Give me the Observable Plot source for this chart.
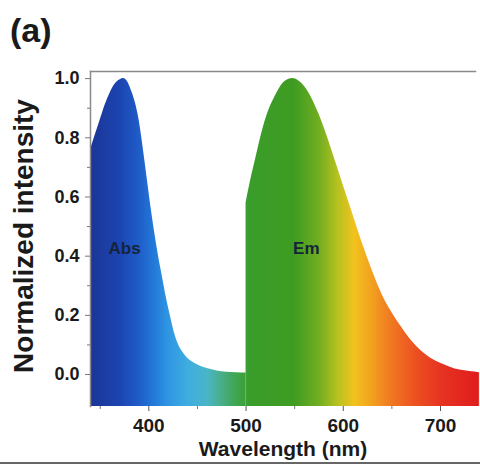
<!DOCTYPE html>
<html>
<head>
<meta charset="utf-8">
<script src="https://cdn.jsdelivr.net/npm/d3@7"></script>
<script src="https://cdn.jsdelivr.net/npm/@observablehq/plot@0.6"></script>
<style>
  html, body { margin: 0; padding: 0; background: #fff; }
  #wrap { position: relative; width: 480px; height: 466px; overflow: hidden; font-family: "Liberation Sans", Arial, sans-serif; }
  #panel { position: absolute; left: 10px; top: 11px; font-size: 34px; font-weight: bold; color: #1a1a1a; }
  #rule { position: absolute; left: 0; right: 0; top: 462px; height: 2px; background: #666; }
</style>
</head>
<body>
<div id="wrap">
  <div id="chart"></div>
  <div id="panel">(a)</div>
  <div id="rule"></div>
</div>
<script>
// Wavelength (nm) and normalized intensity
const absWavelength = [340, 345, 350, 355, 360, 365, 370, 374, 378, 382, 386, 390, 394, 398, 402, 406, 410, 414, 418, 422, 426, 430, 435, 440, 450, 460, 470, 480, 490, 500];
const absIntensity  = [0.76, 0.81, 0.86, 0.91, 0.95, 0.98, 0.995, 1.0, 0.99, 0.96, 0.92, 0.86, 0.77, 0.67, 0.57, 0.48, 0.40, 0.33, 0.26, 0.20, 0.145, 0.105, 0.075, 0.055, 0.033, 0.02, 0.012, 0.008, 0.006, 0.005];
const emWavelength  = [500, 505, 510, 515, 520, 530, 540, 548, 555, 565, 575, 585, 590, 600, 610, 620, 630, 640, 650, 660, 670, 680, 690, 700, 710, 720, 730, 740];
const emIntensity   = [0.58, 0.66, 0.73, 0.80, 0.86, 0.94, 0.99, 1.0, 0.99, 0.95, 0.88, 0.79, 0.74, 0.64, 0.54, 0.44, 0.35, 0.27, 0.21, 0.16, 0.115, 0.08, 0.055, 0.038, 0.025, 0.015, 0.01, 0.006];

const bandLabels = ["Abs", "Em"];
const bandLabelWavelength = [375, 562];
const bandLabelIntensity = [0.425, 0.425];

const yTicks = [0, 0.2, 0.4, 0.6, 0.8, 1.0];
const yTickLabels = ["0.0", "0.2", "0.4", "0.6", "0.8", "1.0"];
const yMinorTicks = [0.1, 0.3, 0.5, 0.7, 0.9];
const xTicks = [400, 500, 600, 700];
const xTickLabels = ["400", "500", "600", "700"];
const xMinorTicks = [350, 450, 550, 650];

// Spectral colour stops for the fill gradient (style)
const spectrumStops = [
  [340, "#1b3596"], [370, "#1c44b0"], [390, "#1f5cc8"], [405, "#2278d8"], [420, "#2f95e2"],
  [440, "#3eade0"], [460, "#4ab5c8"], [475, "#48ae8a"], [490, "#3fa550"], [505, "#3a9c2a"],
  [550, "#3f9c22"], [575, "#70ad20"], [595, "#b8c220"], [612, "#f2c21e"], [630, "#f2a01e"],
  [650, "#f07822"], [675, "#ec5020"], [700, "#e63422"], [740, "#e01c1c"]
];

const xDomain = [340, 736];
const yDomain = [-0.108, 1.024];

const absData = absWavelength.map((w, i) => ({w, v: absIntensity[i]}));
const emData = emWavelength.map((w, i) => ({w, v: emIntensity[i]}));
const labels = bandLabels.map((t, i) => ({t, w: bandLabelWavelength[i], v: bandLabelIntensity[i]}));

const font = "'Liberation Sans', Arial, sans-serif";

const plot = Plot.plot({
  width: 480,
  height: 466,
  marginLeft: 90,
  marginRight: 5,
  marginTop: 71,
  marginBottom: 60,
  style: {fontFamily: font, background: "transparent", overflow: "visible"},
  x: {domain: xDomain},
  y: {domain: yDomain},
  marks: [
    Plot.areaY(absData, {x: "w", y1: yDomain[0], y2: "v", fill: "url(#spectrumGrad)", curve: "monotone-x"}),
    Plot.areaY(emData, {x: "w", y1: yDomain[0], y2: "v", fill: "url(#spectrumGrad)", curve: "monotone-x"}),
    Plot.frame({anchor: "top", stroke: "#8a8a8a", strokeWidth: 1.5}),
    Plot.frame({anchor: "left", stroke: "#8a8a8a", strokeWidth: 1.5}),
    Plot.axisY(yTicks, {tickFormat: (d) => yTickLabels[yTicks.indexOf(d)], tickSize: 5, tickPadding: 6, fontSize: 18, fontWeight: "bold", fill: "#1a1a1a", stroke: "#777", label: null}),
    Plot.axisY(yMinorTicks, {tickFormat: () => "", tickSize: 3, stroke: "#777", label: null}),
    Plot.axisX(xTicks, {tickFormat: (d) => xTickLabels[xTicks.indexOf(d)], tickSize: 5, tickPadding: 7, fontSize: 19, fontWeight: "bold", fill: "#1a1a1a", stroke: "#555", label: null}),
    Plot.axisX(xMinorTicks, {tickFormat: () => "", tickSize: 3, stroke: "#777", label: null}),
    Plot.text(labels, {x: "w", y: "v", text: "t", fontSize: 17, fontWeight: "bold", fill: "#14243a"}),
    Plot.text(["Wavelength (nm)"], {frameAnchor: "bottom", textAnchor: "middle", dy: 49, dx: 0, fontSize: 21, fontWeight: "bold", fill: "#1a1a1a"}),
    Plot.text(["Normalized intensity"], {frameAnchor: "left", textAnchor: "middle", dx: -66, dy: -3, rotate: -90, fontSize: 28, fontWeight: "bold", fill: "#1a1a1a"})
  ]
});

// Build the horizontal spectral gradient in the x scale's pixel space
const xs = plot.scale("x");
const ns = "http://www.w3.org/2000/svg";
const defs = document.createElementNS(ns, "defs");
const grad = document.createElementNS(ns, "linearGradient");
grad.setAttribute("id", "spectrumGrad");
grad.setAttribute("gradientUnits", "userSpaceOnUse");
grad.setAttribute("x1", xs.apply(spectrumStops[0][0]));
grad.setAttribute("x2", xs.apply(spectrumStops[spectrumStops.length - 1][0]));
grad.setAttribute("y1", 0);
grad.setAttribute("y2", 0);
const span = spectrumStops[spectrumStops.length - 1][0] - spectrumStops[0][0];
for (const [w, c] of spectrumStops) {
  const s = document.createElementNS(ns, "stop");
  s.setAttribute("offset", ((w - spectrumStops[0][0]) / span).toFixed(4));
  s.setAttribute("stop-color", c);
  grad.appendChild(s);
}
defs.appendChild(grad);
plot.insertBefore(defs, plot.firstChild);

document.getElementById("chart").appendChild(plot);
</script>
</body>
</html>
